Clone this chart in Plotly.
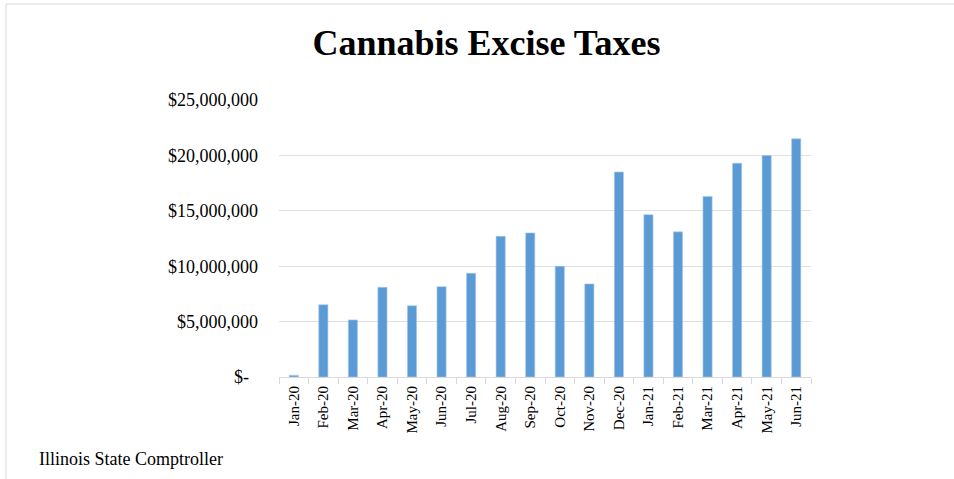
import plotly.graph_objects as go

months = ["Jan-20", "Feb-20", "Mar-20", "Apr-20", "May-20", "Jun-20", "Jul-20",
          "Aug-20", "Sep-20", "Oct-20", "Nov-20", "Dec-20", "Jan-21", "Feb-21",
          "Mar-21", "Apr-21", "May-21", "Jun-21"]
excise_taxes = [150000, 6520000, 5150000, 8090000, 6430000, 8150000, 9360000,
                12700000, 13000000, 10000000, 8400000, 18500000, 14650000, 13100000,
                16300000, 19300000, 20000000, 21500000]
y_tick_values = [0, 5000000, 10000000, 15000000, 20000000, 25000000]
y_tick_labels = ["$-\u00a0\u00a0", "$5,000,000", "$10,000,000", "$15,000,000",
                 "$20,000,000", "$25,000,000"]

W, H = 954, 479
L, R, T, B = 279, 143, 100, 102
pw, ph = W - L - R, H - T - B

serif = "Liberation Serif, Times New Roman, serif"

fig = go.Figure(go.Bar(
    x=months, y=excise_taxes,
    marker=dict(color="#5b9bd5", line=dict(color="#a9c8ea", width=0.6)),
))

fig.update_layout(
    width=W, height=H,
    margin=dict(l=L, r=R, t=T, b=B),
    paper_bgcolor="white", plot_bgcolor="white",
    bargap=0.69,
    showlegend=False,
    font=dict(family=serif, color="#000000"),
    title=dict(text="<b>Cannabis Excise Taxes</b>", x=486.5 / W, xanchor="center",
               y=1 - 42 / H, yanchor="middle", yref="container",
               font=dict(family=serif, size=36, color="#000000")),
    xaxis=dict(type="category", tickangle=-90, tickfont=dict(size=15, family=serif),
               showline=True, linecolor="#d9d9d9", linewidth=1,
               ticks="outside", tickson="boundaries", ticklen=6, tickcolor="#d9d9d9",
               showgrid=False, ticklabelstandoff=2),
    yaxis=dict(range=[0, 25000000], tickvals=y_tick_values, ticktext=y_tick_labels,
               tickfont=dict(size=18, family=serif),
               showgrid=True, gridcolor="#e0e0e0", gridwidth=1,
               zeroline=False, showline=False, ticks="", ticklabelstandoff=20),
)

# source note
fig.add_annotation(text="Illinois State Comptroller", xref="paper", yref="paper",
                   x=(37 - L) / pw, y=(H - B - 459) / ph, xanchor="left", yanchor="middle",
                   showarrow=False, font=dict(family=serif, size=18, color="#000000"))

# chart frame (top and left edges visible)
fx = (6 - L) / pw
fy = (H - B - 4) / ph
fig.add_shape(type="line", xref="paper", yref="paper", x0=fx, x1=(W + 5 - L) / pw,
              y0=fy, y1=fy, line=dict(color="#d9d9d9", width=1))
fig.add_shape(type="line", xref="paper", yref="paper", x0=fx, x1=fx,
              y0=fy, y1=(H - B - H - 5) / ph, line=dict(color="#d9d9d9", width=1))

fig.write_html("out.html")
